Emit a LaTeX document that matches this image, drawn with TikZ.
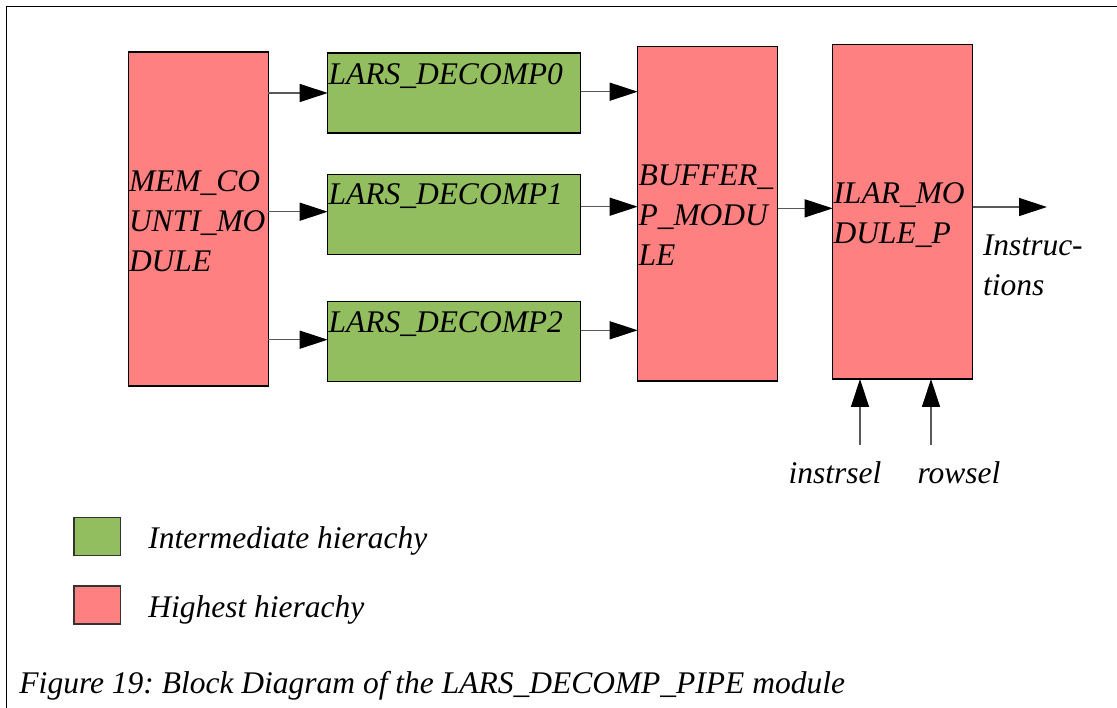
\documentclass[tikz,border=0pt]{standalone}
\usepackage{fontspec}
\setmainfont{Liberation Serif}
\usetikzlibrary{arrows.meta}
\definecolor{hipink}{RGB}{255,128,128}
\definecolor{midgreen}{RGB}{147,190,95}
\frenchspacing
\begin{document}
\begin{tikzpicture}[x=1pt,y=-1pt,
  every node/.style={font=\fontsize{31.5}{40}\selectfont\itshape\frenchspacing, inner sep=0pt, outer sep=0pt},
  hibox/.style={draw=black, line width=1.1pt, fill=hipink, anchor=north west, minimum width=140pt, minimum height=334pt},
  midbox/.style={draw=black, line width=1.1pt, fill=midgreen, anchor=north west, minimum width=253pt, minimum height=80pt},
  legbox/.style={draw=black!80, line width=1.1pt, anchor=north west, minimum width=46.7pt, minimum height=38pt},
  sig/.style={draw=black!65, line width=1.3pt, -{Triangle[length=28pt,width=18pt,color=black]}},
  boxtext/.style={anchor=north west, align=left},
]
\useasboundingbox (0,0) rectangle (1117,708);
% frame
\draw[line width=1.6pt] (6.5,708) -- (6.5,6.5) -- (1117,6.5);

% blocks
\node[hibox] (mem) at (128.3,52) {};
\node[midbox] (l0) at (327.7,53) {};
\node[midbox] (l1) at (327.7,174.3) {};
\node[midbox] (l2) at (327.7,301.7) {};
\node[hibox, minimum height=334.3pt] (buf) at (637.7,46.7) {};
\node[hibox, minimum height=334.7pt] (ilar) at (832.7,44.3) {};

% block texts
\node[boxtext] (memt) at (129,164) {\strut MEM\_CO\\UNTI\_MO\\DULE};
\node[anchor=base west] (l0t) at (328.5,85) {LARS\_DECOMP0};
\node[anchor=base west] (l1t) at (328.5,205) {LARS\_DECOMP1};
\node[anchor=base west] (l2t) at (328.5,332.7) {LARS\_DECOMP2};
\node[boxtext] (buft) at (638.5,158) {\strut BUFFER\_\\P\_MODU\\LE};
\node[boxtext] (ilart) at (833.5,175.7) {\strut ILAR\_MO\\DULE\_P};

% connectors
\draw[sig] (mem.east |- l0.west) -- (l0.west);
\draw[sig] ([yshift=2.6pt]mem.east |- l1.west) -- ([yshift=2.6pt]l1.west);
\draw[sig] ([yshift=2pt]mem.east |- l2.west) -- ([yshift=2pt]l2.west);
\draw[sig] ([yshift=1.3pt]l0.east) -- ([yshift=1.3pt]buf.west |- l0.east);
\draw[sig] ([yshift=7.6pt]l1.east) -- ([yshift=7.6pt]buf.west |- l1.east);
\draw[sig] ([yshift=11.4pt]l2.east) -- ([yshift=11.4pt]buf.west |- l2.east);
\draw[sig] ([yshift=5.5pt]buf.east) -- ([yshift=5.5pt]ilar.west |- buf.east);
\coordinate (out) at (1047,207);
\draw[sig] (ilar.east |- out) -- (out);
\coordinate (isel) at (860,445);
\coordinate (rsel) at (931,445);
\draw[sig] (isel) -- (isel |- ilar.south);
\draw[sig] (rsel) -- (rsel |- ilar.south);

% signal labels
\node[boxtext] (instr) at (983,227.4) {\strut Instruc-\\tions};
\node[anchor=base] (iselt) at (835,483) {instrsel};
\node[anchor=base] (rselt) at (959,483) {rowsel};

% legend
\node[legbox, fill=midgreen] (lg) at (74,517.3) {};
\node[legbox, fill=hipink] (lp) at (74,586) {};
\node[anchor=base west] (lgt) at (148.3,548.3) {Intermediate hierachy};
\node[anchor=base west] (lpt) at (148.3,617.3) {Highest hierachy};

% caption
\node[anchor=base west] (cap) at (19.5,693.3) {Figure 19: Block Diagram of the LARS\_DECOMP\_PIPE module};
\end{tikzpicture}
\end{document}
